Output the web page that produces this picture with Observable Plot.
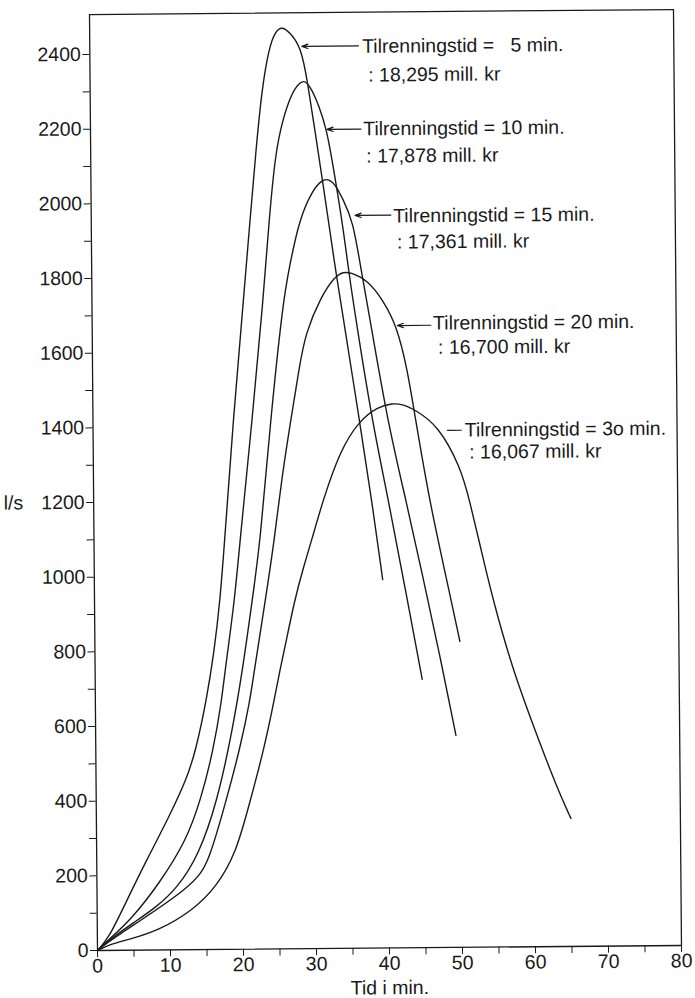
<!DOCTYPE html>
<html>
<head>
<meta charset="utf-8">
<script src="https://cdn.jsdelivr.net/npm/d3@7"></script>
<script src="https://cdn.jsdelivr.net/npm/@observablehq/plot@0.6"></script>
<style>
  html, body { margin: 0; padding: 0; background: #fff; }
  #chart svg { display: block; transform: rotate(-0.49deg); transform-origin: 97px 950px; }
</style>
</head>
<body>
<div id="chart"></div>
<script>
// ---- Data (time in minutes, flow in l/s) ----
const seriesNames = ["5 min", "10 min", "15 min", "20 min", "30 min"];

const curve5 = [[0,0],[1.6,34],[4.06,133],[6.8,240],[9.95,356],[12.4,456],[13.7,534],[15.2,665],[16.35,801],[17.2,935],[17.9,1095],[19.2,1417],[20.75,1738],[21.75,1953],[22.6,2131],[23.5,2300],[24.55,2415],[25.5,2460],[26.4,2470],[27.4,2455],[28.95,2415],[29.8,2320],[30.75,2190],[31.85,2040],[33.4,1817],[34.05,1735],[36.5,1414],[38.1,1199],[39.5,987]];

const curve10 = [[0,0],[1.6,30],[4.5,79],[8.6,179],[12.3,293],[14.3,400],[16.1,533],[17.3,667],[17.8,747],[19.2,935],[20.0,1095],[21.8,1416],[23.45,1737],[24.35,1952],[25.3,2131],[26.3,2219],[27.6,2292],[28.6,2318],[29.3,2326],[30.1,2312],[31.3,2260],[32.35,2194],[33.2,2095],[34.35,1950],[35.2,1816],[35.75,1735],[38.2,1414],[40.4,1198],[42.6,959],[44.8,719]];

const curve15 = [[0,0],[1.6,28],[5.0,74],[8.05,114],[10.9,163],[14.0,253],[16.6,399],[18.65,578],[20.2,747],[21.6,934],[22.8,1094],[24.3,1416],[26.2,1737],[27.0,1818],[28.45,1951],[30.3,2030],[31.6,2058],[32.6,2062],[33.6,2042],[34.4,2010],[35.85,1950],[36.9,1816],[37.65,1735],[40.3,1413],[42.8,1198],[45.0,993],[47.15,792],[49.35,568]];

const curve20 = [[0,0],[1.6,26],[13.4,172],[15.4,238],[17.8,399],[19.7,533],[21.2,667],[21.8,746],[23.4,934],[24.7,1094],[25.75,1256],[27.1,1416],[28.3,1555],[29.2,1648],[31.35,1745],[33.3,1800],[34.5,1812],[35.5,1810],[37.8,1789],[39.9,1734],[41.7,1667],[43.1,1553],[44.2,1413],[46.0,1197],[48.0,1010],[50.0,820]];

const curve30 = [[0,0],[2,18],[4,27],[8.5,53],[13.05,105],[16.3,166],[19.1,257],[21.1,398],[23.0,532],[24.5,666],[25.3,746],[25.95,800],[27.4,934],[28.65,1021],[29.8,1093],[31.4,1200],[33.8,1333],[36.5,1414],[39.1,1450],[41.0,1459],[42.5,1456],[44.2,1440],[47.3,1398],[50.3,1286],[51.5,1197],[53.05,1061],[54.6,929],[57.1,749],[60.35,571],[63.1,427],[65.0,343]];

const curves = [curve5, curve10, curve15, curve20, curve30];

// Annotation texts
const titleLines = [
  "Tilrenningstid = \u20075 min.",
  "Tilrenningstid = 10 min.",
  "Tilrenningstid = 15 min.",
  "Tilrenningstid = 20 min.",
  "Tilrenningstid = 3o min."
];
const costLines = [
  ": 18,295 mill. kr",
  ": 17,878 mill. kr",
  ": 17,361 mill. kr",
  ": 16,700 mill. kr",
  ": 16,067 mill. kr"
];
// annotation anchor points (data coordinates): arrow tip, arrow tail, title, cost line
const arrowTip   = [[29.05,2417],[32.4,2194],[36.15,1963],[41.8,1667],[48.5,1385]];
const arrowTail  = [36.8, 37.05, 41.05, 46.4, 50.5];
const titlePos   = [[37.3,2415],[37.35,2194],[41.35,1960],[46.7,1672],[50.9,1385]];
const costPos    = [[38.1,2338],[37.75,2121],[41.85,1890],[47.35,1607],[51.5,1326]];
const hasArrowHead = [true, true, true, true, false];

// Axis ticks
const xMajor = [0,10,20,30,40,50,60,70,80];
const xMinor = [5,15,25,35,45,55,65,75];
const yMajor = [0,200,400,600,800,1000,1200,1400,1600,1800,2000,2200,2400];
const yMinor = [100,300,500,700,900,1100,1300,1500,1700,1900,2100,2300];
const xTitle = "Tid i min.";
const yTitle = "l/s";

// ---- Build tables ----
const rows = [];
curves.forEach((pts, i) => pts.forEach(([t, q]) => rows.push({t, q, s: seriesNames[i]})));

const ann = titleLines.map((title, i) => ({
  title, cost: costLines[i],
  tipX: arrowTip[i][0], tipY: arrowTip[i][1], tailX: arrowTail[i],
  tx: titlePos[i][0], ty: titlePos[i][1], cx: costPos[i][0], cy: costPos[i][1],
  head: hasArrowHead[i]
}));

const ink = "#1a1a1a";
const font = 19.5;

const chart = Plot.plot({
  width: 695,
  height: 998,
  marginLeft: 97,
  marginRight: 14,
  marginTop: 14,
  marginBottom: 48,
  style: {fontFamily: "'Liberation Sans', Arial, Helvetica, sans-serif", fontSize: font + "px", color: ink, background: "#fff"},
  x: {domain: [0, 80]},
  y: {domain: [0, 2507]},
  marks: [
    Plot.frame({stroke: ink, strokeWidth: 1.3}),
    Plot.axisY({ticks: yMajor, tickSize: 7, tickPadding: 2, label: null, tickFormat: d => String(d), fontSize: font}),
    Plot.axisY({ticks: yMinor, tickSize: 7, label: null, tickFormat: () => ""}),
    Plot.axisX({ticks: xMajor, tickSize: 7, tickPadding: 1, label: null, tickFormat: d => String(d), fontSize: font}),
    Plot.axisX({ticks: xMinor, tickSize: 7, label: null, tickFormat: () => ""}),
    Plot.line(rows, {x: "t", y: "q", z: "s", curve: "basis", stroke: ink, strokeWidth: 1.4}),
    Plot.arrow(ann.filter(d => d.head), {x1: "tailX", y1: "tipY", x2: "tipX", y2: "tipY", headLength: 8, headAngle: 40, stroke: ink, strokeWidth: 1.2}),
    Plot.link(ann.filter(d => !d.head), {x1: "tipX", y1: "tipY", x2: "tailX", y2: "tipY", stroke: ink, strokeWidth: 1.2}),
    Plot.text(ann, {x: "tx", y: "ty", text: "title", textAnchor: "start", lineAnchor: "middle", fontSize: font, fill: ink}),
    Plot.text(ann, {x: "cx", y: "cy", text: "cost", textAnchor: "start", lineAnchor: "middle", fontSize: font, fill: ink}),
    Plot.text([yTitle], {x: () => 0, y: () => 1200, text: d => d, dx: -90, textAnchor: "start", lineAnchor: "middle", fontSize: font, fill: ink}),
    Plot.text([xTitle], {frameAnchor: "bottom", dy: 40, text: d => d, lineAnchor: "middle", fontSize: font, fill: ink})
  ]
});

document.getElementById("chart").appendChild(chart);
</script>
</body>
</html>
